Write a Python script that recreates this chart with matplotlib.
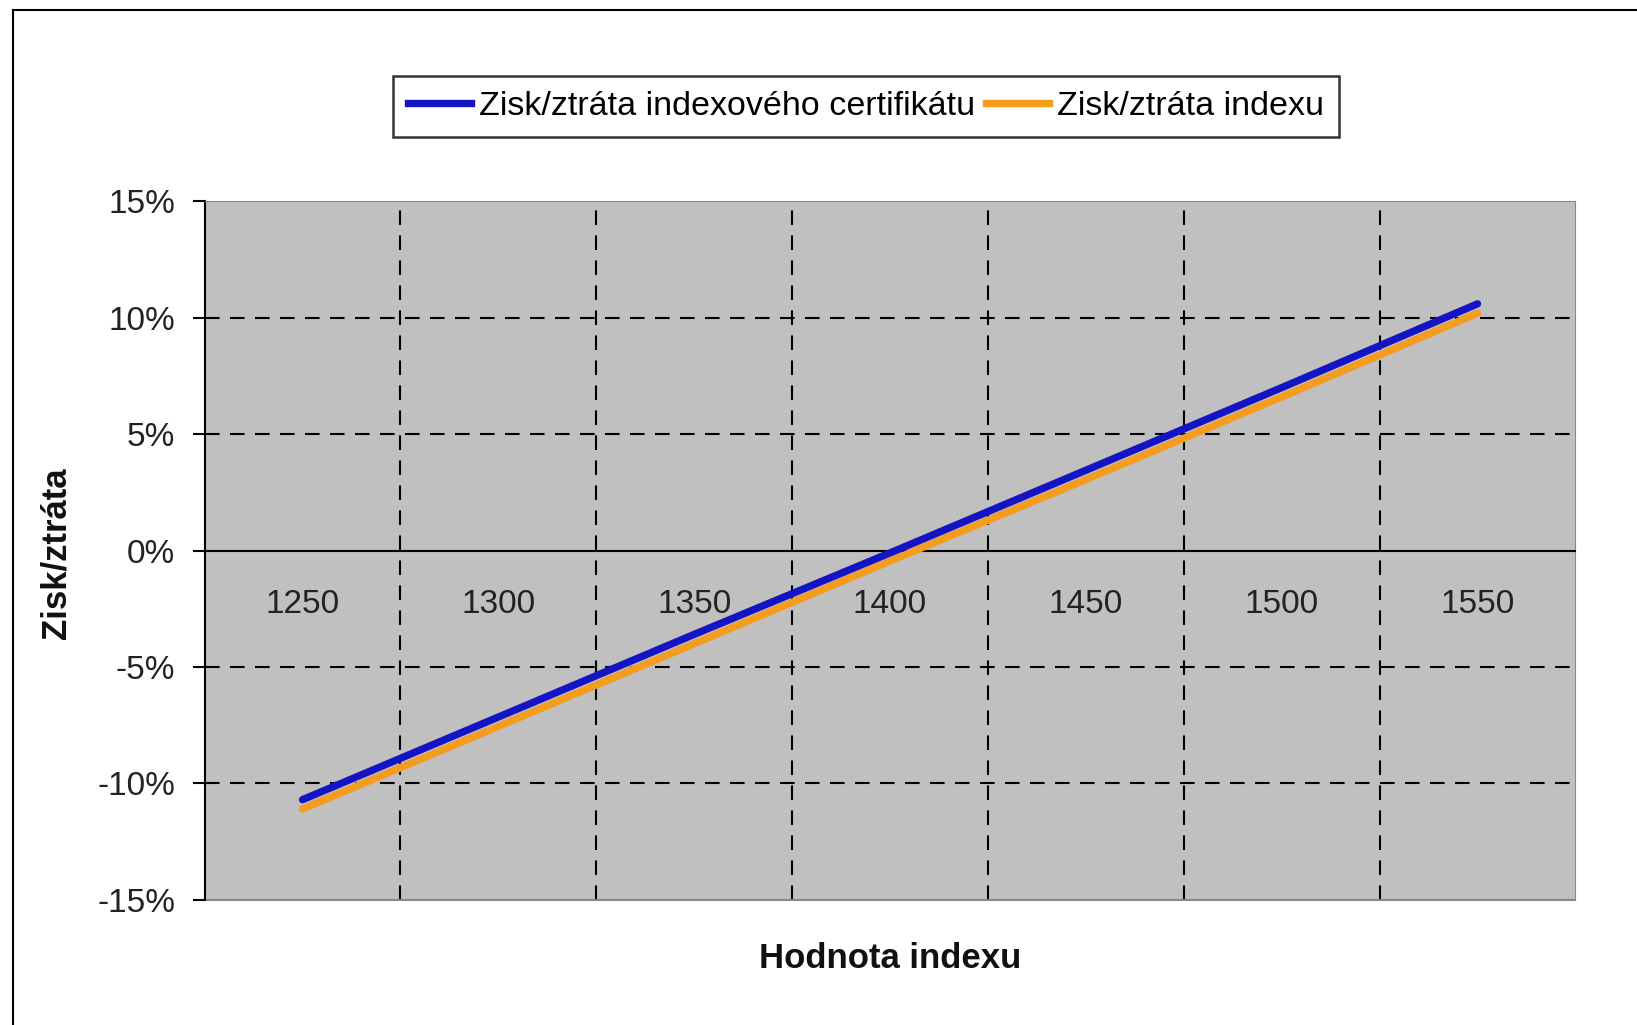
import matplotlib
matplotlib.use('Agg')
import matplotlib.pyplot as plt
from matplotlib.ticker import FixedLocator, FuncFormatter
from matplotlib.lines import Line2D

plt.rcParams['font.family'] = ['Liberation Sans', 'DejaVu Sans']

# Data
index_values = [1250, 1300, 1350, 1400, 1450, 1500, 1550]
cert_pl = [-10.7, -7.15, -3.6, -0.1, 3.45, 7.0, 10.6]
index_pl = [-11.1, -7.55, -4.0, -0.45, 3.05, 6.6, 10.2]
series_names = ['Zisk/ztráta indexového certifikátu', 'Zisk/ztráta indexu']
y_ticks = [-15, -10, -5, 0, 5, 10, 15]

fig = plt.figure(figsize=(16.37, 10.25), dpi=100)
ax = fig.add_axes([0.125, 0.1222, 0.8374, 0.6813])
ax.set_facecolor('#C0C0C0')

# Lines through category centres
ax.plot(index_values, cert_pl, color='#1414C4', lw=5.3, solid_capstyle='round', zorder=4)
ax.plot(index_values, index_pl, color='#F39C1E', lw=5.3, solid_capstyle='round', zorder=3)

step = index_values[1] - index_values[0]
ax.set_xlim(index_values[0] - step / 2, index_values[-1] + step / 2)
ax.set_ylim(-15, 15)

# Category labels at centres, gridlines between categories
ax.xaxis.set_major_locator(FixedLocator(index_values))
ax.xaxis.set_minor_locator(FixedLocator([v + step / 2 for v in index_values[:-1]]))
ax.set_xticklabels([str(v) for v in index_values])
ax.tick_params(axis='x', which='major', length=0, pad=28, labelsize=24, labelcolor='#222222')
ax.tick_params(axis='x', which='minor', length=0)
ax.grid(True, axis='x', which='minor', color='black', linestyle=(0, (7, 5)), lw=1.5)

ax.yaxis.set_major_locator(FixedLocator(y_ticks))
ax.yaxis.set_major_formatter(FuncFormatter(lambda v, p: f"{v:.0f}%"))
ax.tick_params(axis='y', length=9, width=1.5, pad=12, labelsize=24, labelcolor='#222222')
for y in y_ticks[1:-1]:
    if y != 0:
        ax.axhline(y, color='black', linestyle=(0, (7, 5)), lw=1.5, zorder=1)
ax.set_axisbelow(True)

ax.spines['bottom'].set_position(('data', 0))
ax.spines['bottom'].set_color('black')
ax.spines['bottom'].set_linewidth(1.5)
ax.spines['left'].set_linewidth(1.5)
ax.spines['top'].set_color('#888888')
ax.spines['right'].set_color('#888888')
# bottom edge of plot area
ax.axhline(-15, color='#888888', lw=1.5, zorder=2, clip_on=False)

fig.text(0.5435, 0.065, 'Hodnota indexu', ha='center', va='center',
         fontsize=25, fontweight='bold', color='#111111')
fig.text(0.034, 0.46, 'Zisk/ztráta', ha='center', va='center', rotation=90,
         fontsize=25, fontweight='bold', color='#111111')

handles = [Line2D([], [], color='#1414C4', lw=5.3),
           Line2D([], [], color='#F39C1E', lw=5.3)]
leg = fig.legend(handles, series_names, loc='center', bbox_to_anchor=(0.529, 0.896),
                 ncol=2, fontsize=24.5, frameon=True, fancybox=False, handlelength=1.85,
                 handletextpad=0.25, columnspacing=0.3, borderpad=0.45, borderaxespad=0)
leg.get_frame().set_edgecolor('black')
leg.get_frame().set_linewidth(1.8)

# Outer chart border (left and top edges visible)
fig.add_artist(Line2D([0.0077, 0.0077], [0.0, 0.99], color='black', lw=1.5))
fig.add_artist(Line2D([0.0077, 1.0], [0.99, 0.99], color='black', lw=1.5))

fig.savefig('out.png', dpi=100)
